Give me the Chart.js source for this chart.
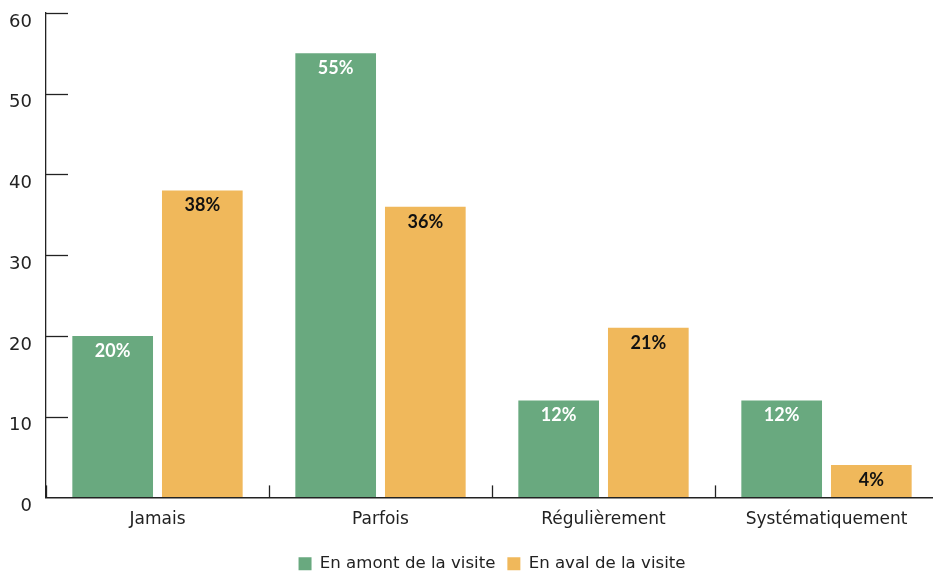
<!DOCTYPE html>
<html><head><meta charset="utf-8">
<script src="https://cdn.jsdelivr.net/npm/chart.js@4/dist/chart.umd.min.js"></script>
<style>html,body{margin:0;padding:0;background:#fff;overflow:hidden;}#wrap{position:absolute;left:0;top:0;width:945px;height:571px;}</style>
</head><body><div id="wrap"><canvas id="c"></canvas></div>
<script>
const categories = ['Jamais', 'Parfois', 'Régulièrement', 'Systématiquement'];
const seriesNames = ['En amont de la visite', 'En aval de la visite'];
const amont = [20, 55, 12, 12];
const aval = [38, 36, 21, 4];
const yTicks = [0, 10, 20, 30, 40, 50, 60];
const colors = ['#69a97f', '#f0b85b'];
const FONT = '"DejaVu Sans"';
const BOLD = 'Lato';

const marks = {
  id: 'marks',
  afterDraw(chart) {
    const {ctx, chartArea: a, scales: {x, y}} = chart;
    ctx.save();
    ctx.strokeStyle = '#222'; ctx.lineWidth = 1.3;
    yTicks.forEach(v => {
      const py = Math.round(y.getPixelForValue(v)) + 0.5;
      if (v === 0) return;
      ctx.beginPath(); ctx.moveTo(a.left, py); ctx.lineTo(a.left + 22, py); ctx.stroke();
    });
    for (let i = 0; i <= categories.length; i++) {
      const px = Math.round(x.getPixelForValue(i - 0.5)) + 0.5;
      ctx.beginPath(); ctx.moveTo(px, a.bottom); ctx.lineTo(px, a.bottom - 12); ctx.stroke();
    }
    ctx.restore();
  },
  afterDatasetsDraw(chart) {
    const ctx = chart.ctx;
    ctx.save();
    ctx.font = 'bold 18px ' + BOLD;
    ctx.textAlign = 'center'; ctx.textBaseline = 'middle';
    chart.data.datasets.forEach((ds, di) => {
      chart.getDatasetMeta(di).data.forEach((bar, i) => {
        ctx.fillStyle = di === 0 ? '#ffffff' : '#111111';
        ctx.fillText(ds.data[i] + '%', bar.x, bar.y + 15);
      });
    });
    ctx.restore();
  }
};

new Chart(document.getElementById('c'), {
  type: 'bar',
  data: {
    labels: categories,
    datasets: [
      {label: seriesNames[0], data: amont, backgroundColor: colors[0]},
      {label: seriesNames[1], data: aval, backgroundColor: colors[1]}
    ]
  },
  options: {
    responsive: true, maintainAspectRatio: false, animation: false,
    layout: {padding: {top: 13, right: 7, left: 1, bottom: -11}},
    datasets: {bar: {categoryPercentage: 0.804, barPercentage: 0.9}},
    plugins: {
      legend: {
        position: 'bottom', fullSize: false,
        labels: {boxWidth: 13, boxHeight: 13, padding: 12, color: '#222', font: {family: FONT, size: 16.6}}
      },
      tooltip: {enabled: false}
    },
    scales: {
      x: {
        grid: {drawOnChartArea: false, drawTicks: false},
        border: {display: true, color: '#222', width: 1.5},
        ticks: {color: '#222', padding: 12, font: {family: FONT, size: 17}},
        afterFit: s => { s.height = 46; s.paddingLeft = 0; s.paddingRight = 0; }
      },
      y: {
        min: 0, max: 60,
        afterBuildTicks: s => { s.ticks = yTicks.map(v => ({value: v})); },
        grid: {drawOnChartArea: false, drawTicks: false},
        border: {display: true, color: '#222', width: 1.3},
        ticks: {color: '#222', padding: 14, labelOffset: 9, font: {family: FONT, size: 18}},
        afterFit: s => { s.width = 45; s.paddingTop = 0; s.paddingBottom = 0; }
      }
    }
  },
  plugins: [marks]
});
</script></body></html>
